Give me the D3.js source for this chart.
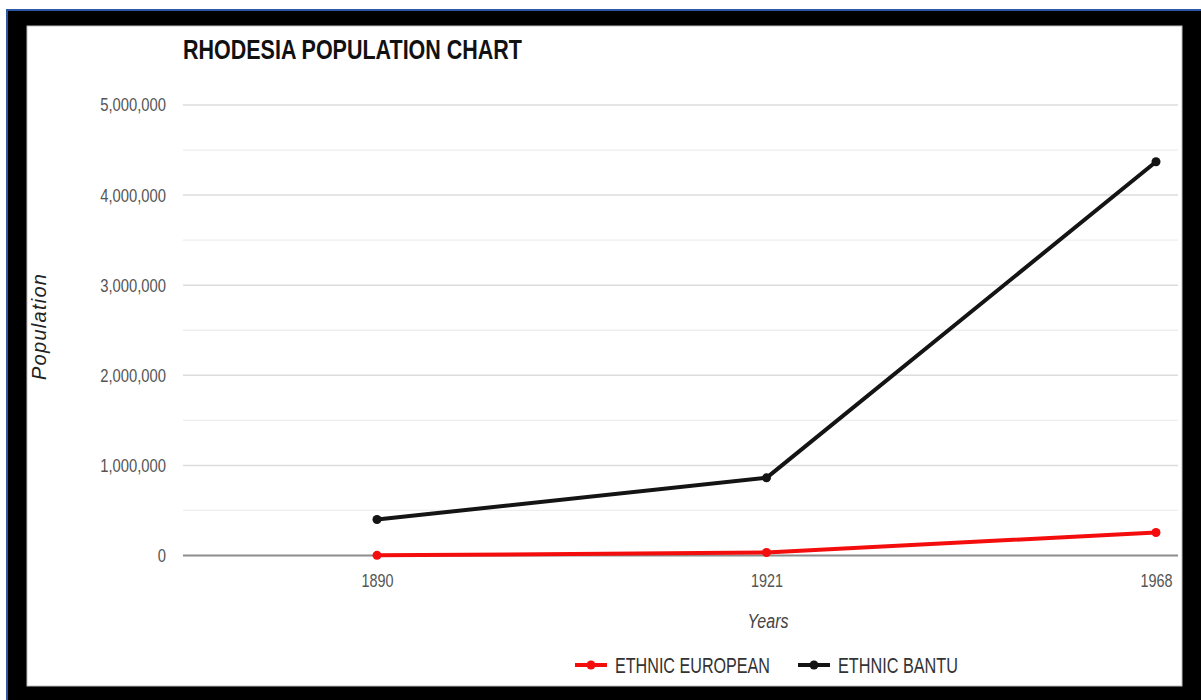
<!DOCTYPE html>
<html>
<head>
<meta charset="utf-8">
<script src="https://cdn.jsdelivr.net/npm/d3@7"></script>
<style>
  html, body { margin: 0; padding: 0; background: #fff; }
  svg { display: block; }
  text { font-family: "Liberation Sans", Arial, sans-serif; }
</style>
</head>
<body>
<svg id="chart" width="1201" height="700"></svg>
<script>
// Census years (categorical x axis)
const years = ["1890", "1921", "1968"];
// Population by group
const european = [1500, 33600, 255000];
const bantu = [400000, 862000, 4370000];
// Y axis ticks
const yTicks = [0, 1000000, 2000000, 3000000, 4000000, 5000000];
const yMinorTicks = [500000, 1500000, 2500000, 3500000, 4500000];

const seriesNames = ["ETHNIC EUROPEAN", "ETHNIC BANTU"];
const seriesColors = ["#f40d0d", "#141414"];
const seriesValues = [european, bantu];

// Horizontal squeeze for the condensed lettering
const narrow = 0.8;

const svg = d3.select("#chart");

// Frame: thin blue edge, thick black border, white panel
svg.append("rect").attr("x", 6).attr("y", 9).attr("width", 1200).attr("height", 700).attr("fill", "#2f57a6");
svg.append("rect").attr("x", 8).attr("y", 11).attr("width", 1200).attr("height", 700).attr("fill", "#000");
svg.append("rect").attr("x", 27).attr("y", 26).attr("width", 1155).attr("height", 660)
  .attr("fill", "#fff").attr("stroke", "#bdbdbd").attr("stroke-width", 1);

const plotLeft = 183, plotRight = 1178;

const x = d3.scalePoint().domain(years).range([377, 1156]);
const y = d3.scaleLinear().domain([0, 5000000]).range([555.5, 105]);

// Gridlines
const g = svg.append("g");
g.selectAll("line.minor").data(yMinorTicks).enter().append("line")
  .attr("class", "minor")
  .attr("x1", plotLeft).attr("x2", plotRight)
  .attr("y1", d => y(d)).attr("y2", d => y(d))
  .attr("stroke", "#eeeeee").attr("stroke-width", 1.3);
g.selectAll("line.major").data(yTicks.filter(d => d > 0)).enter().append("line")
  .attr("class", "major")
  .attr("x1", plotLeft).attr("x2", plotRight)
  .attr("y1", d => y(d)).attr("y2", d => y(d))
  .attr("stroke", "#dcdcdc").attr("stroke-width", 1.5);

// Y axis labels
const yAxis = d3.axisLeft(y).tickValues(yTicks).tickSize(0).tickPadding(0)
  .tickFormat(d3.format(","));
const yAxisG = svg.append("g").attr("transform", "translate(166,0)").call(yAxis);
yAxisG.select(".domain").remove();
yAxisG.selectAll("text")
  .attr("fill", "#555").attr("font-size", 18.5)
  .attr("font-family", null)
  .attr("transform", `scale(${narrow},1)`);

// Baseline
svg.append("line")
  .attr("x1", plotLeft).attr("x2", plotRight)
  .attr("y1", y(0)).attr("y2", y(0))
  .attr("stroke", "#8c8c8c").attr("stroke-width", 2);

// X axis labels
const xAxis = d3.axisBottom(x).tickSize(0).tickPadding(0);
const xAxisG = svg.append("g").attr("transform", "translate(0,574)").call(xAxis);
xAxisG.select(".domain").remove();
xAxisG.selectAll("text")
  .attr("fill", "#555").attr("font-size", 18)
  .attr("font-family", null)
  .attr("transform", `scale(${narrow},1)`);

// Lines and points
const line = d3.line().x((d, i) => x(years[i])).y(d => y(d));
seriesValues.forEach((vals, si) => {
  svg.append("path").datum(vals)
    .attr("d", line)
    .attr("fill", "none")
    .attr("stroke", seriesColors[si])
    .attr("stroke-width", 4)
    .attr("stroke-linejoin", "round")
    .attr("stroke-linecap", "round");
  svg.selectAll(null).data(vals).enter().append("circle")
    .attr("cx", (d, i) => x(years[i]))
    .attr("cy", d => y(d))
    .attr("r", 4.5)
    .attr("fill", seriesColors[si]);
});

// Title
svg.append("text")
  .attr("x", 183).attr("y", 58.5)
  .attr("font-size", 27).attr("font-weight", "bold")
  .attr("fill", "#111")
  .attr("textLength", 339).attr("lengthAdjust", "spacingAndGlyphs")
  .text("RHODESIA POPULATION CHART");

// Axis titles
svg.append("text")
  .attr("transform", "translate(46,327) rotate(-90)")
  .attr("text-anchor", "middle")
  .attr("font-size", 20).attr("font-style", "italic")
  .attr("fill", "#222")
  .attr("textLength", 106).attr("lengthAdjust", "spacing")
  .text("Population");

svg.append("text")
  .attr("transform", `translate(768,628) scale(${narrow},1)`)
  .attr("text-anchor", "middle")
  .attr("font-size", 20).attr("font-style", "italic")
  .attr("fill", "#444")
  .text("Years");

// Legend
const legendX = [575, 798];
const legendTextLen = [155, 120];
seriesNames.forEach((name, si) => {
  const lg = svg.append("g").attr("transform", `translate(${legendX[si]},665)`);
  lg.append("line").attr("x1", 0).attr("x2", 32).attr("y1", 0).attr("y2", 0)
    .attr("stroke", seriesColors[si]).attr("stroke-width", 4);
  lg.append("circle").attr("cx", 16).attr("cy", 0).attr("r", 4.5).attr("fill", seriesColors[si]);
  lg.append("text").attr("x", 40).attr("y", 8)
    .attr("font-size", 21.5).attr("fill", "#333")
    .attr("textLength", legendTextLen[si]).attr("lengthAdjust", "spacingAndGlyphs")
    .text(name);
});
</script>
</body>
</html>
